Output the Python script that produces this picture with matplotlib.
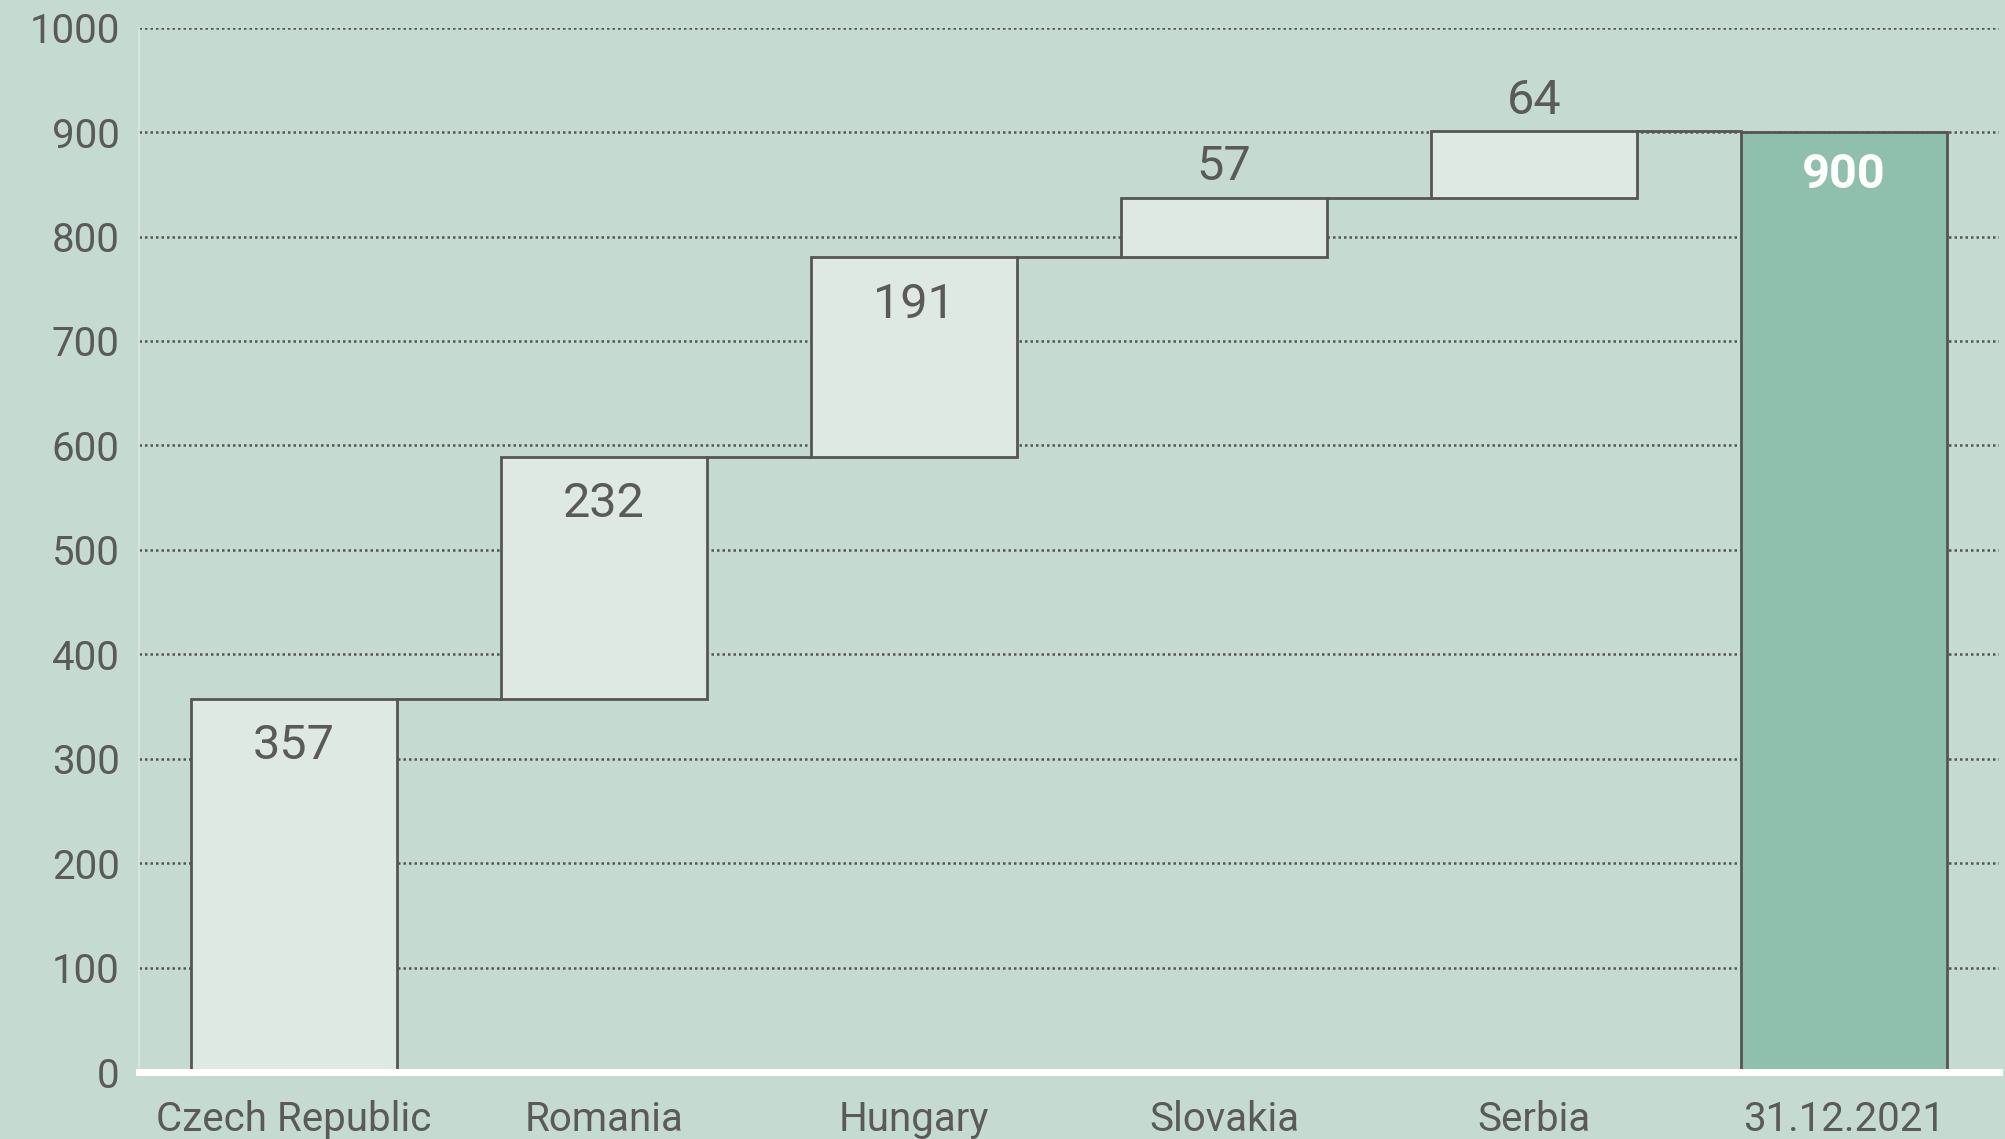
import numpy as np
import matplotlib
matplotlib.use("Agg")
import matplotlib.pyplot as plt

# data
categories = ["Czech Republic", "Romania", "Hungary", "Slovakia", "Serbia", "31.12.2021"]
increments = [357, 232, 191, 57, 64]
total = 900
yticks = [0, 100, 200, 300, 400, 500, 600, 700, 800, 900, 1000]

bg = "#c5dbd2"
light = "#dfe9e4"
dark_fill = "#8fbfad"
edge = "#555555"
text_c = "#5a5a5a"

plt.rcParams["font.family"] = ["Roboto", "DejaVu Sans"]

fig = plt.figure(figsize=(20.06, 11.39), dpi=100, facecolor=bg)
ax = fig.add_axes([0.0693, 0.0588, 0.9272, 0.9169], facecolor=bg)

x = np.arange(len(categories))
bottoms = np.concatenate([[0], np.cumsum(increments)[:-1]])
tops = bottoms + np.array(increments)
width = 0.665

ax.bar(x[:-1], increments, bottom=bottoms, width=width, color=light,
       edgecolor=edge, linewidth=2, zorder=3)
ax.bar(x[-1], total, width=width, color=dark_fill, edgecolor=edge,
       linewidth=2, zorder=3)

# connectors
levels = list(tops)
for i in range(len(categories) - 1):
    ax.plot([x[i] + width / 2, x[i + 1] - width / 2], [levels[i], levels[i]],
            color=edge, linewidth=2, zorder=2)

# value labels
for i, v in enumerate(increments):
    if v > 100:
        ax.annotate(str(v), (x[i], tops[i]), xytext=(0, -34), textcoords="offset points",
                    ha="center", va="center", fontsize=35, color=text_c, zorder=4)
    else:
        ax.annotate(str(v), (x[i], tops[i]), xytext=(0, 22), textcoords="offset points",
                    ha="center", va="center", fontsize=35, color=text_c, zorder=4)
ax.annotate(str(total), (x[-1], total), xytext=(0, -31), textcoords="offset points",
            ha="center", va="center", fontsize=35, color="white", fontweight="bold", zorder=4)

ax.set_xlim(-0.5, len(categories) - 0.5)
ax.set_ylim(0, 1000)
ax.set_yticks(yticks)
ax.set_xticks(x)
ax.set_xticklabels(categories)
ax.tick_params(axis="y", length=0, pad=14, labelsize=29, labelcolor=text_c)
ax.tick_params(axis="x", length=0, pad=20, labelsize=29, labelcolor=text_c)

ax.grid(axis="y", linestyle=(0, (1, 1.2)), color=edge, linewidth=1.8, zorder=1)
ax.set_axisbelow(True)

for s in ["top", "right"]:
    ax.spines[s].set_visible(False)
ax.spines["left"].set_color("#dde6e2")
ax.spines["left"].set_linewidth(1.2)
ax.spines["bottom"].set_color("white")
ax.spines["bottom"].set_linewidth(5)
ax.spines["bottom"].set_zorder(5)

fig.savefig("out.png", dpi=100, facecolor=bg)
